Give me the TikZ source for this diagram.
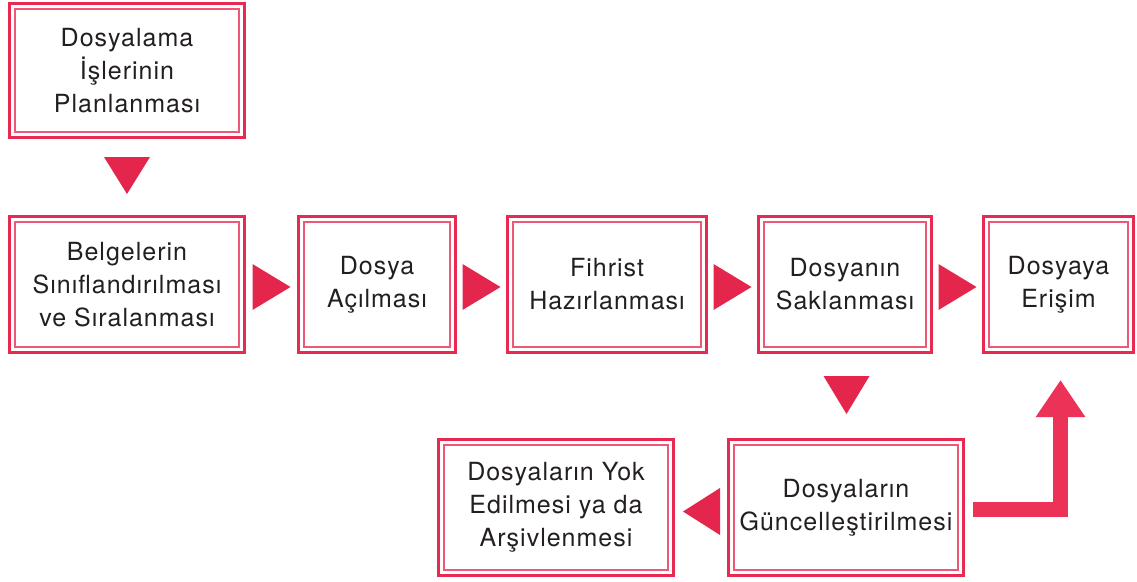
\documentclass[tikz,border=0pt]{standalone}
\usepackage{fontspec}
\setmainfont[LetterSpace=4]{TeX Gyre Heros}
\usetikzlibrary{calc,arrows.meta}
\definecolor{frame}{RGB}{232,42,82}
\definecolor{frameinner}{RGB}{238,88,118}
\definecolor{tip}{RGB}{228,38,76}
\definecolor{bar}{RGB}{236,50,86}
\definecolor{ink}{RGB}{35,31,32}
\tikzset{
  stagebox/.style={draw=frame, line width=3pt, fill=white, align=center,
    text=ink, inner sep=0pt, minimum height=136pt,
    font=\fontsize{25}{33}\selectfont,
    path picture={
      \draw[frameinner, line width=1.1pt]
        ([shift={(5.5pt,5.5pt)}]path picture bounding box.south west) rectangle
        ([shift={(-5.5pt,-5.5pt)}]path picture bounding box.north east);}},
  tipfill/.style={fill=tip},
  elbow/.style={draw=bar, line width=15pt, line join=miter,
    -{Triangle[length=37pt,width=47pt]}}
}
\begin{document}
\begin{tikzpicture}[x=1pt,y=-1pt]
\useasboundingbox (0,0) rectangle (1137,581);

% stages
\node[stagebox, minimum width=235pt, minimum height=134pt] (plan) at (127,70.5)
  {Dosyalama\\İşlerinin\\Planlanması};
\node[stagebox, minimum width=235pt] (sinif) at (127,284.5)
  {Belgelerin\\Sınıflandırılması\\ve Sıralanması};
\node[stagebox, minimum width=157pt] (acil) at (377,284.5)
  {Dosya\\Açılması};
\node[stagebox, minimum width=199pt] (fihrist) at (607,284.5)
  {Fihrist\\Hazırlanması};
\node[stagebox, minimum width=173pt] (sakla) at (845,284.5)
  {Dosyanın\\Saklanması};
\node[stagebox, minimum width=150pt] (erisim) at (1058.5,284.5)
  {Dosyaya\\Erişim};
\node[stagebox, minimum width=235pt] (guncel) at (846,507.5)
  {Dosyaların\\Güncelleştirilmesi};
\node[stagebox, minimum width=235pt] (yok) at (556,507.5)
  {Dosyaların Yok\\Edilmesi ya da\\Arşivlenmesi};

% triangle connectors pointing right
\foreach \a/\b in {sinif/acil, acil/fihrist, fihrist/sakla, sakla/erisim}{
  \fill[tipfill] ($(\a.east)!0.5!(\b.west)+(0,2.5)$) +(-19,-23) -- +(19,0) -- +(-19,23) -- cycle;
}
% triangle connectors pointing down
\fill[tipfill] ($(plan.south)!0.5!(sinif.north)+(0,-1.5)$) +(-23,-18.5) -- +(23,-18.5) -- +(0,18.5) -- cycle;
\fill[tipfill] ($(sakla.south)!0.5!(guncel.north)+(1,-1)$) +(-23,-19) -- +(23,-19) -- +(0,19) -- cycle;
% triangle connector pointing left
\fill[tipfill] ($(guncel.west)!0.5!(yok.east)+(0.5,4)$) +(18.5,-23.5) -- +(18.5,23.5) -- +(-18.5,0) -- cycle;

% bent arrow back up to access
\coordinate (from) at ([shift={(8,2)}]guncel.east);
\coordinate (to) at ([shift={(2,26)}]erisim.south);
\draw[elbow] (from) -| (to);
\end{tikzpicture}
\end{document}
